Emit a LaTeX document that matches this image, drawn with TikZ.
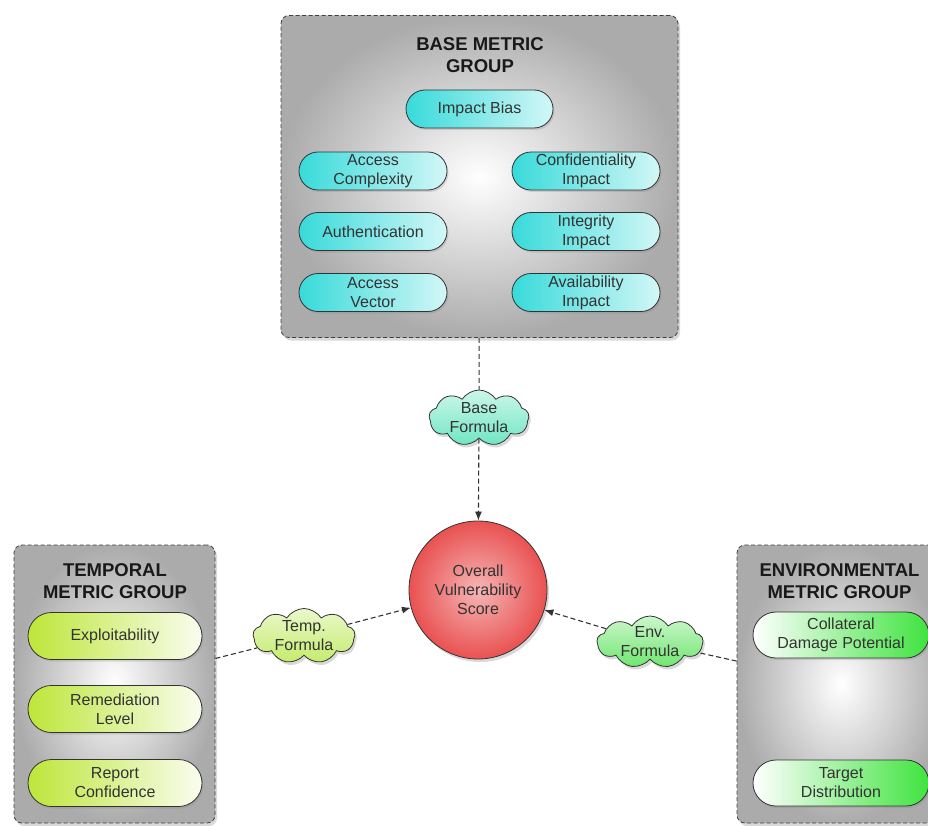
\documentclass[tikz,border=0pt]{standalone}
\usepackage{fontspec}
\setmainfont{Liberation Sans}
\definecolor{BaseCyan}{HTML}{38DADA}
\definecolor{TempLime}{HTML}{BDE639}
\definecolor{EnvGreen}{HTML}{3FE33F}
\definecolor{CloudAqua}{HTML}{6FE6C2}
\definecolor{CloudLime}{HTML}{C4EC6C}
\definecolor{CloudGreen}{HTML}{6FE66F}
\definecolor{ScoreRed}{HTML}{E84848}
\definecolor{BoxGray}{HTML}{ABABAB}
\usetikzlibrary{arrows.meta,positioning,shapes.misc,shapes.symbols,shadows}

\begin{document}
\begin{tikzpicture}[x=1pt,y=-1pt,
    group/.style={draw=black!75,line width=0.8pt,dash pattern=on 4pt off 2.5pt,
      rounded corners=8pt,shading=radial,inner color=white,outer color=BoxGray,
      drop shadow={shadow xshift=2pt,shadow yshift=-3pt,opacity=0.3}},
    grouptitle/.style={font=\fontsize{18.5}{22}\selectfont\bfseries,
      align=center,text=black!90},
    metric/.style={rounded rectangle,draw=black!80,line width=0.8pt,
      minimum width=148pt,minimum height=38pt,inner sep=0pt,align=center,
      font=\fontsize{16}{19}\selectfont,text=black!80,
      drop shadow={shadow xshift=1.5pt,shadow yshift=-2pt,opacity=0.25}},
    formula/.style={cloud,cloud puffs=9,cloud puff arc=115,cloud ignores aspect,
      draw=black!80,line width=0.8pt,inner sep=-6pt,align=center,
      font=\fontsize{16}{19}\selectfont,text=black!80,
      drop shadow={shadow xshift=2pt,shadow yshift=-3pt,opacity=0.3}},
    conn/.style={draw=black!80,line width=1.1pt,dash pattern=on 5pt off 3pt},
    arr/.style={conn,-{Latex[length=9pt,width=7pt]}}]
  \useasboundingbox (0,0) rectangle (928,826);

  % base group
  \node[group,minimum width=397pt,minimum height=322pt] (basegrp) at (479.5,176.5) {};
  \node[grouptitle] (basetitle) at (480,55) {BASE METRIC\\GROUP};
  \node[metric,left color=BaseCyan,right color=BaseCyan!22,minimum width=147pt]
    (impbias) at (479.5,109) {Impact Bias};
  \node[metric,left color=BaseCyan,right color=BaseCyan!22] (acccomp) at (373,171) {Access\\Complexity};
  \node[metric,left color=BaseCyan,right color=BaseCyan!22] (auth) at (373,231.5) {Authentication};
  \node[metric,left color=BaseCyan,right color=BaseCyan!22] (accvec) at (373,292.5) {Access\\Vector};
  \node[metric,left color=BaseCyan,right color=BaseCyan!22] (confimp) at (586,171) {Confidentiality\\Impact};
  \node[metric,left color=BaseCyan,right color=BaseCyan!22] (integimp) at (586,231.5) {Integrity\\Impact};
  \node[metric,left color=BaseCyan,right color=BaseCyan!22] (availimp) at (586,292.5) {Availability\\Impact};

  % temporal group
  \node[group,minimum width=201pt,minimum height=278pt] (tempgrp) at (114.5,684) {};
  \node[grouptitle] (temptitle) at (115,581) {TEMPORAL\\METRIC GROUP};
  \node[metric,left color=TempLime,right color=TempLime!8,minimum width=174pt,minimum height=47pt]
    (exploit) at (115,636) {Exploitability};
  \node[metric,left color=TempLime,right color=TempLime!8,minimum width=174pt,minimum height=47pt]
    (remed) at (115,709) {Remediation\\Level};
  \node[metric,left color=TempLime,right color=TempLime!8,minimum width=174pt,minimum height=47pt]
    (report) at (115,783) {Report\\Confidence};

  % environmental group
  \node[group,minimum width=208pt,minimum height=278pt] (envgrp) at (841,684) {};
  \node[grouptitle] (envtitle) at (839.5,581) {ENVIRONMENTAL\\METRIC GROUP};
  \node[metric,left color=white,right color=EnvGreen,minimum width=176pt,minimum height=46pt]
    (collat) at (841,635) {Collateral\\Damage Potential};
  \node[metric,left color=white,right color=EnvGreen,minimum width=176pt,minimum height=46pt]
    (target) at (841,783) {Target\\Distribution};

  % formulas and score
  \node[formula,top color=CloudAqua!35,bottom color=CloudAqua,minimum width=100pt,minimum height=56pt]
    (basef) at (479,418) {Base\\Formula};
  \node[formula,top color=CloudLime!35,bottom color=CloudLime,minimum width=102pt,minimum height=55pt]
    (tempf) at (304,636) {Temp.\\Formula};
  \node[formula,top color=CloudGreen!35,bottom color=CloudGreen,minimum width=106pt,minimum height=52pt]
    (envf) at (650,642) {Env.\\Formula};
  \node[circle,draw=black!80,line width=0.8pt,minimum size=138pt,inner sep=0pt,
        shading=radial,inner color=ScoreRed!40,outer color=ScoreRed!95,align=center,
        font=\fontsize{16}{19}\selectfont,text=black!80,
        drop shadow={shadow xshift=2pt,shadow yshift=-3pt,opacity=0.3}]
    (score) at (478,590) {Overall\\Vulnerability\\Score};

  % links
  \draw[conn] (basegrp) -- (basef);
  \draw[arr] (basef) -- (score);
  \draw[conn] (tempgrp) -- (tempf);
  \draw[arr] (tempf) -- (score);
  \draw[conn] (envgrp) -- (envf);
  \draw[arr] (envf) -- (score);
\end{tikzpicture}
\end{document}
